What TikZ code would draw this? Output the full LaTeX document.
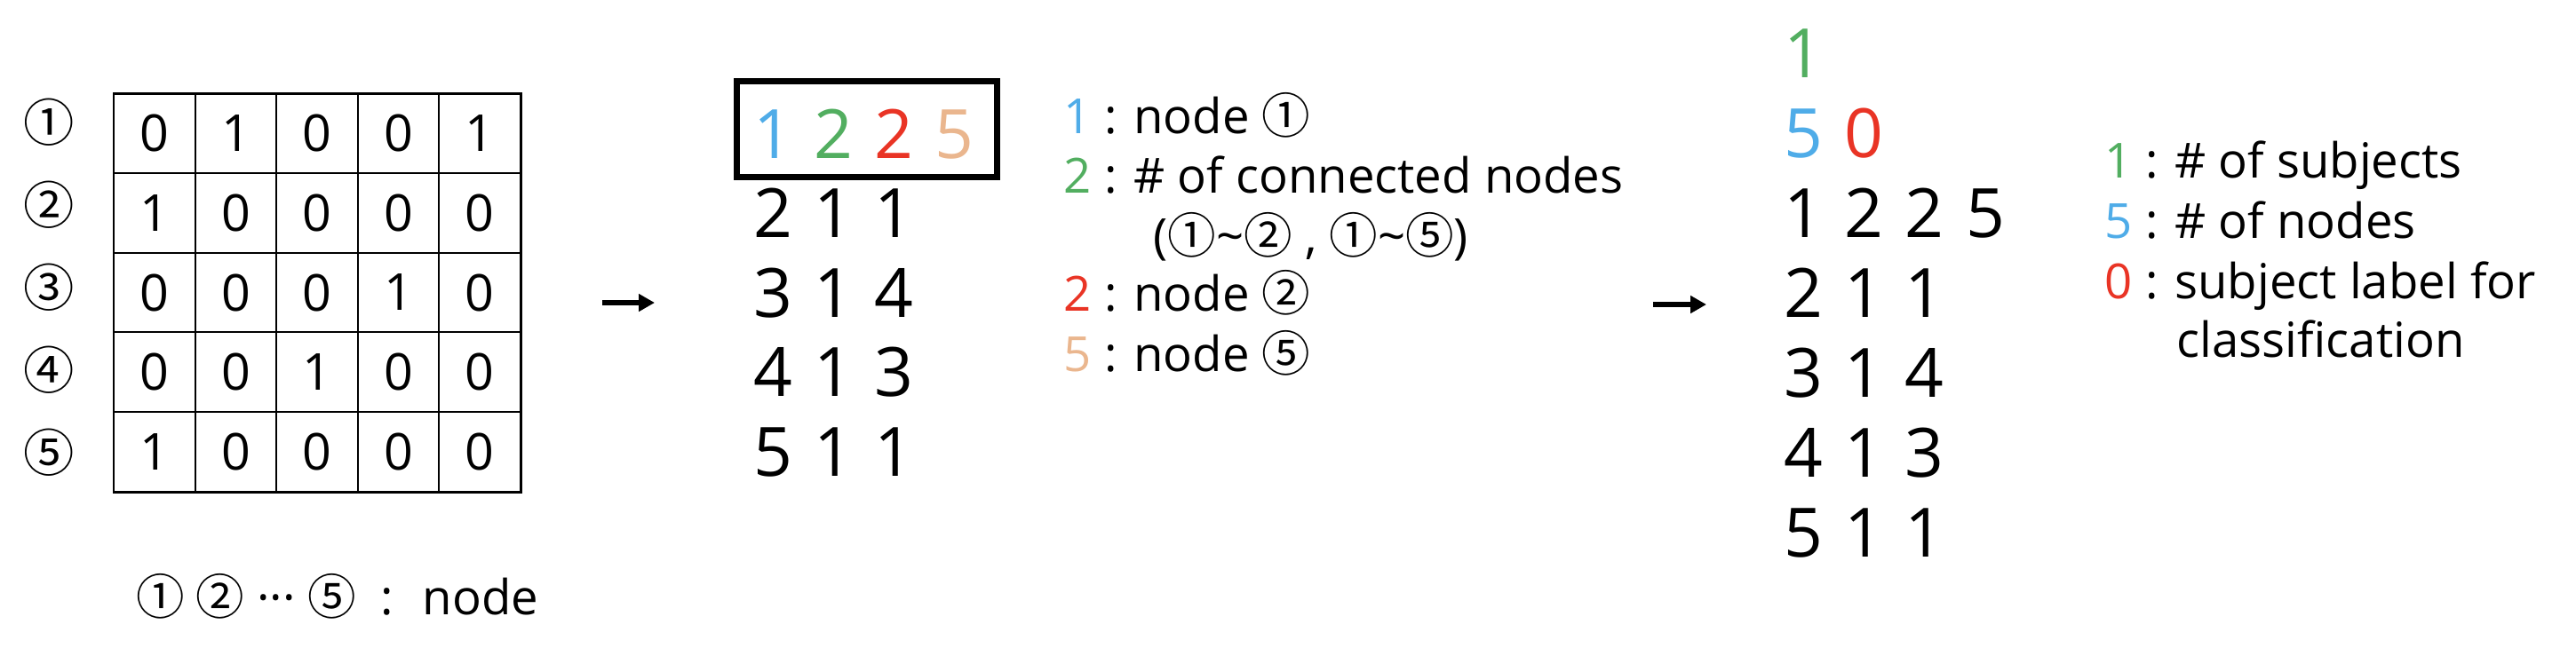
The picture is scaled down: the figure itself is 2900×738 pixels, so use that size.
\documentclass[tikz,border=0pt]{standalone}
\usepackage{fontspec}
\setmainfont{Open Sans}
\newfontfamily\cjk{Noto Sans CJK KR}
\usetikzlibrary{arrows.meta}
\definecolor{nblue}{RGB}{79,172,232}
\definecolor{ngreen}{RGB}{82,174,96}
\definecolor{nred}{RGB}{233,52,37}
\definecolor{npeach}{RGB}{234,182,142}

\begin{document}
\begin{tikzpicture}[x=0.01cm,y=-0.01cm,
  cell/.style={inner sep=0pt,font=\fontsize{16.3}{19}\selectfont},
  big/.style={anchor=base,inner sep=0pt,font=\fontsize{21.8}{26}\selectfont},
  note/.style={anchor=base west,inner sep=0pt,font=\fontsize{15.5}{18}\selectfont},
  goes/.style={line width=1.7pt,-{Triangle[length=5.1pt,width=5.4pt]}}]
\useasboundingbox (0,0) rectangle (2900,738);

% adjacency matrix
\foreach \i in {1,...,4}{
  \draw[line width=0.6pt] (128+91.6*\i,105)--(128+91.6*\i,554);
  \draw[line width=0.6pt] (128,105+89.8*\i)--(586,105+89.8*\i);
}
\draw[line width=0.85pt] (128,105) rectangle (586,554);
\foreach \row [count=\r] in {{0,1,0,0,1},{1,0,0,0,0},{0,0,0,1,0},{0,0,1,0,0},{1,0,0,0,0}}
  \foreach \v [count=\c] in \row
    \node[cell] (m\r\c) at (128+91.6*\c-45.8,105+89.8*\r-44.9) {\v};
\foreach \g [count=\r] in {①,②,③,④,⑤}
  \node[cell] (lab\r) at (55,138+93*\r-93) {\cjk\g};
\node[note] (key) at (153,692) {{\cjk ① ②} ··· {\cjk ⑤}\hspace{0.5em}:\hspace{0.6em}node};

\coordinate (p1) at (678,341);
\coordinate (q1) at (737,341);
\draw[goes] (p1)--(q1);

% edge list
\foreach \d/\col [count=\c] in {1/nblue,2/ngreen,2/nred,5/npeach}
  \node[big,text=\col] (h\c) at (870+68.3*\c-68.3,178) {\d};
\draw[line width=2pt] (829.5,91.5) rectangle (1122.5,199.5);
\foreach \row [count=\r] in {{2,1,1},{3,1,4},{4,1,3},{5,1,1}}
  \foreach \d [count=\c] in \row
    \node[big] (a\r\c) at (870+68.3*\c-68.3,178+89.5*\r) {\d};

\node[note] (k1) at (1197,150) {{\color{nblue}1} : node {\cjk ①}};
\node[note] (k2) at (1197,217) {{\color{ngreen}2} : \# of connected nodes};
\node[note] (k3) at (1298,285) {({\cjk ①}\textasciitilde{\cjk ②} , {\cjk ①}\textasciitilde{\cjk ⑤})};
\node[note] (k4) at (1197,350) {{\color{nred}2} : node {\cjk ②}};
\node[note] (k5) at (1197,418) {{\color{npeach}5} : node {\cjk ⑤}};

\coordinate (p2) at (1861,343);
\coordinate (q2) at (1921,343);
\draw[goes] (p2)--(q2);

% graph file
\node[big,text=ngreen] (subj) at (2030,87.5) {1};
\node[big,text=nblue] (nnum) at (2030,177) {5};
\node[big,text=nred] (clab) at (2098,177) {0};
\foreach \row [count=\r] in {{1,2,2,5},{2,1,1},{3,1,4},{4,1,3},{5,1,1}}
  \foreach \d [count=\c] in \row
    \node[big] (b\r\c) at (2030+68.3*\c-68.3,177+90*\r) {\d};

\node[note] (r1) at (2369,200) {{\color{ngreen}1} : \# of subjects};
\node[note] (r2) at (2369,268) {{\color{nblue}5} : \# of nodes};
\node[note] (r3) at (2369,336) {{\color{nred}0} : subject label for};
\node[note] (r4) at (2450,402) {classification};
\end{tikzpicture}
\end{document}
